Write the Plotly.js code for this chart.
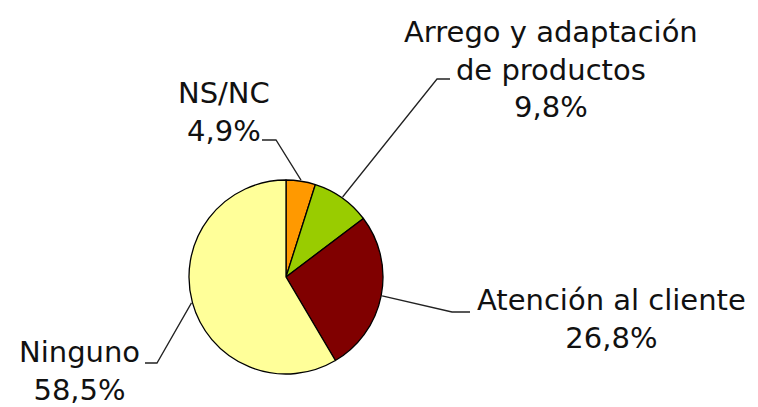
<!DOCTYPE html>
<html>
<head>
<meta charset="utf-8">
<script src="https://cdn.plot.ly/plotly-3.0.1.min.js"></script>
<style>html,body{margin:0;padding:0;background:#fff;}#chart{width:758px;height:407px;}</style>
</head>
<body>
<div id="chart"></div>
<script>
// ---- data ----
const categories = ['NS/NC', 'Arrego y adaptación<br>de productos', 'Atención al cliente', 'Ninguno'];
const values = [4.9, 9.8, 26.8, 58.5];
const valueLabels = ['4,9%', '9,8%', '26,8%', '58,5%'];
const colors = ['#FF9900', '#99CC00', '#800000', '#FFFF99'];

// ---- layout geometry (pixels) ----
const W = 758, H = 407;
const pieCx = 286, pieCy = 277, pieR = 97;
// label text centre, elbow of leader line, end of leader line
const labelPos = [
  {tx: 224, ty: 112, ex: 276, ey: 140, hx: 262, hy: 140},
  {tx: 551, ty: 69,  ex: 437, ey: 79,  hx: 450, hy: 79},
  {tx: 611, ty: 319, ex: 452, ey: 312, hx: 470, hy: 312},
  {tx: 79,  ty: 371, ex: 157, ey: 363, hx: 145, hy: 363}
];

const px = x => x / W;
const py = y => 1 - y / H;

const total = values.reduce((a, b) => a + b, 0);
let cum = 0;
const shapes = [];
const annotations = [];
values.forEach((v, i) => {
  const mid = (cum + v / 2) / total * 2 * Math.PI;
  cum += v;
  const sx = pieCx + (pieR + 1) * Math.sin(mid);
  const sy = pieCy - (pieR + 1) * Math.cos(mid);
  const p = labelPos[i];
  shapes.push({
    type: 'path', xref: 'paper', yref: 'paper',
    path: `M ${px(sx)},${py(sy)} L ${px(p.ex)},${py(p.ey)} L ${px(p.hx)},${py(p.hy)}`,
    line: {color: '#222', width: 1.3}
  });
  annotations.push({
    xref: 'paper', yref: 'paper', x: px(p.tx), y: py(p.ty),
    xanchor: 'center', yanchor: 'middle', align: 'center',
    text: categories[i] + '<br>' + valueLabels[i],
    showarrow: false,
    font: {family: 'DejaVu Sans', size: 29, color: '#111'}
  });
});

const trace = {
  type: 'pie',
  labels: categories,
  values: values,
  sort: false,
  direction: 'clockwise',
  rotation: 0,
  textinfo: 'none',
  hoverinfo: 'none',
  showlegend: false,
  marker: {colors: colors, line: {color: '#000', width: 1.3}},
  domain: {
    x: [px(pieCx - pieR), px(pieCx + pieR)],
    y: [py(pieCy + pieR), py(pieCy - pieR)]
  }
};

const layout = {
  width: W, height: H,
  margin: {l: 0, r: 0, t: 0, b: 0},
  paper_bgcolor: '#fff',
  plot_bgcolor: '#fff',
  showlegend: false,
  shapes: shapes,
  annotations: annotations
};

Plotly.newPlot('chart', [trace], layout, {displayModeBar: false, staticPlot: true});
</script>
</body>
</html>
